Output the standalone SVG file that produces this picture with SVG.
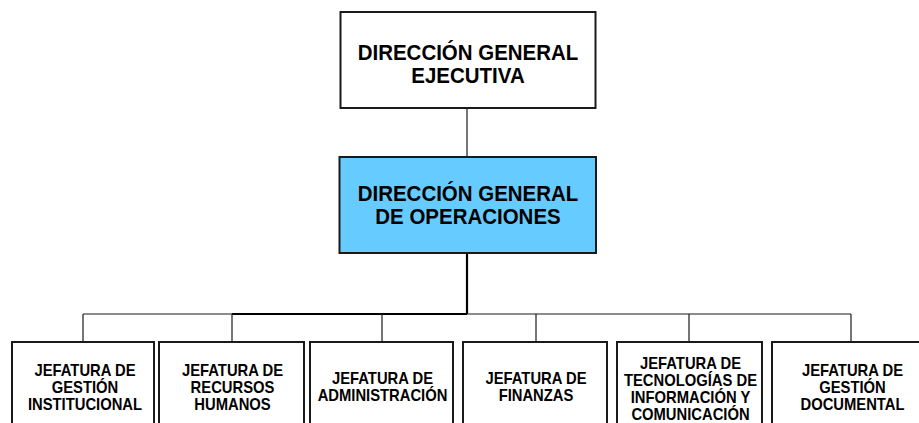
<svg xmlns="http://www.w3.org/2000/svg" width="919" height="423" viewBox="0 0 919 423">
<style>
.box{fill:#ffffff;stroke:#1a1a1a;stroke-width:2}
.blue{fill:#66CCFF}
.t{font-family:"Liberation Sans",Arial,sans-serif;font-weight:bold;fill:#000;text-anchor:middle}
.big{font-size:22.5px}
.sm{font-size:17px}
.ln{stroke:#1a1a1a;stroke-width:1.2;fill:none}
.lnb{stroke:#000;stroke-width:2.2;fill:none}
</style>
<rect width="919" height="423" fill="#ffffff"/>
<g id="connectors">
<line class="ln" x1="467" y1="108" x2="467" y2="157"/>
<line class="lnb" x1="467" y1="253" x2="467" y2="314"/>
<line class="ln" x1="83" y1="314" x2="851" y2="314"/>
<line class="lnb" x1="232" y1="314" x2="467" y2="314"/>
<line class="ln" x1="83" y1="314" x2="83" y2="342"/>
<line class="ln" x1="232" y1="314" x2="232" y2="342"/>
<line class="ln" x1="382" y1="314" x2="382" y2="342"/>
<line class="ln" x1="536" y1="314" x2="536" y2="342"/>
<line class="ln" x1="689" y1="314" x2="689" y2="342"/>
<line class="ln" x1="851" y1="314" x2="851" y2="342"/>
</g>
<g id="n-ejecutiva">
<rect class="box" x="340.5" y="12" width="255" height="96"/>
<text class="t big" transform="translate(468,0) scale(0.91,1)"><tspan x="0" y="60">DIRECCIÓN GENERAL</tspan><tspan x="0" y="83">EJECUTIVA</tspan></text>
</g>
<g id="n-operaciones">
<rect class="box blue" x="339.5" y="157" width="256.5" height="96"/>
<text class="t big" transform="translate(468,0) scale(0.91,1)"><tspan x="0" y="201">DIRECCIÓN GENERAL</tspan><tspan x="0" y="224">DE OPERACIONES</tspan></text>
</g>
<g id="n-gestion-inst">
<rect class="box" x="12" y="342" width="142" height="95"/>
<text class="t sm" transform="translate(85,0) scale(0.87,1)"><tspan x="0" y="376.5">JEFATURA DE</tspan><tspan x="0" y="393.3">GESTIÓN</tspan><tspan x="0" y="410">INSTITUCIONAL</tspan></text>
</g>
<g id="n-rrhh">
<rect class="box" x="159" y="342" width="145" height="95"/>
<text class="t sm" transform="translate(232.5,0) scale(0.87,1)"><tspan x="0" y="376.5">JEFATURA DE</tspan><tspan x="0" y="393.3">RECURSOS</tspan><tspan x="0" y="410">HUMANOS</tspan></text>
</g>
<g id="n-admin">
<rect class="box" x="310" y="342" width="143" height="95"/>
<text class="t sm" transform="translate(382.5,0) scale(0.87,1)"><tspan x="0" y="384.5">JEFATURA DE</tspan><tspan x="0" y="401.3">ADMINISTRACIÓN</tspan></text>
</g>
<g id="n-finanzas">
<rect class="box" x="463" y="342" width="144" height="95"/>
<text class="t sm" transform="translate(536,0) scale(0.87,1)"><tspan x="0" y="384.5">JEFATURA DE</tspan><tspan x="0" y="401.3">FINANZAS</tspan></text>
</g>
<g id="n-tic">
<rect class="box" x="617" y="342" width="145" height="95"/>
<text class="t sm" transform="translate(690.5,0) scale(0.87,1)"><tspan x="0" y="369.5">JEFATURA DE</tspan><tspan x="0" y="386.5">TECNOLOGÍAS DE</tspan><tspan x="0" y="403.5">INFORMACIÓN Y</tspan><tspan x="0" y="420.5">COMUNICACIÓN</tspan></text>
</g>
<g id="n-gestion-doc">
<rect class="box" x="772" y="342" width="158" height="95"/>
<text class="t sm" transform="translate(852.5,0) scale(0.87,1)"><tspan x="0" y="376.5">JEFATURA DE</tspan><tspan x="0" y="393.3">GESTIÓN</tspan><tspan x="0" y="410">DOCUMENTAL</tspan></text>
</g>
</svg>
